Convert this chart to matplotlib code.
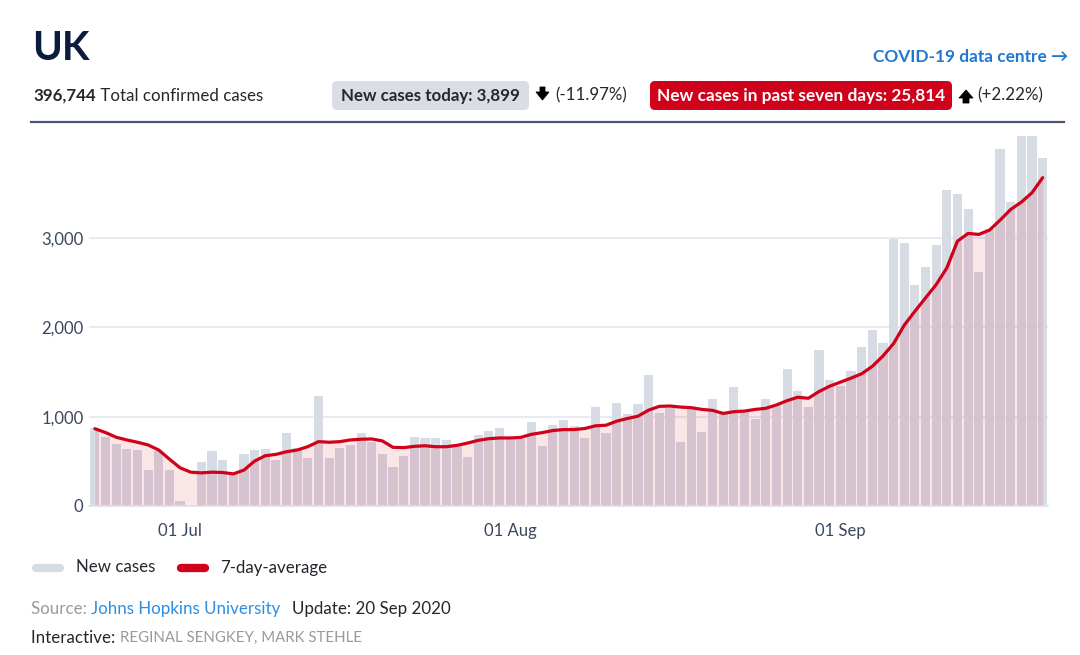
import numpy as np
import pandas as pd
import matplotlib
matplotlib.use("Agg")
import matplotlib.pyplot as plt
from matplotlib.patches import FancyBboxPatch, Polygon
from matplotlib.lines import Line2D
from matplotlib.transforms import IdentityTransform

# ---------------- data ----------------
dates = pd.date_range("2020-06-23", "2020-09-20", freq="D")
new_cases = [
    872, 777, 691, 635, 627, 401, 616, 398, 51, 0,
    495, 616, 511, 364, 579, 627, 638, 518, 819, 646,
    533, 1237, 533, 646, 684, 823, 721, 579, 438, 556,
    774, 762, 762, 742, 690, 547, 796, 844, 879, 759,
    755, 942, 672, 906, 960, 898, 765, 1113, 817, 1152,
    1036, 1148, 1462, 1041, 1100, 714, 1085, 830, 1194, 1027,
    1334, 1050, 978, 1199, 1130, 1540, 1293, 1108, 1751, 1413,
    1342, 1514, 1778, 1976, 1824, 2986, 2948, 2477, 2675, 2928,
    3537, 3499, 3330, 2622, 3104, 4000, 3404, 4322, 4422, 3899,
]
avg7 = [
    866, 823, 770, 740, 714, 684, 627, 525, 428, 379,
    371, 379, 375, 360, 402, 503, 563, 578, 608, 627,
    665, 721, 714, 721, 740, 748, 751, 729, 657, 654,
    668, 675, 664, 664, 679, 705, 735, 754, 762, 762,
    769, 803, 822, 845, 856, 856, 868, 898, 905, 950,
    980, 1006, 1074, 1116, 1120, 1108, 1101, 1082, 1071, 1037,
    1056, 1063, 1082, 1094, 1132, 1180, 1218, 1207, 1282, 1342,
    1387, 1432, 1481, 1564, 1680, 1820, 2025, 2181, 2331, 2480,
    2667, 2967, 3053, 3042, 3090, 3202, 3322, 3404, 3509, 3678,
]
yticks = [0, 1000, 2000, 3000]
ytick_labels = ["0", "1,000", "2,000", "3,000"]
xtick_dates = ["2020-07-01", "2020-08-01", "2020-09-01"]
xtick_labels = ["01 Jul", "01 Aug", "01 Sep"]

# ---------------- style ----------------
W, H = 1080, 655
FONT = ["Lato", "DejaVu Sans"]
plt.rcParams["font.family"] = FONT
NAVY = "#0b1a3d"
DARK = "#26262e"
SLATE = "#3b4660"
GREY_TXT = "#9a9a9a"
BLUE = "#1f77d0"
BAR = "#d6dbe4"
RED = "#d0021b"

fig = plt.figure(figsize=(W / 100, H / 100), dpi=100)
fig.patch.set_facecolor("white")


def fx(x):
    return x / W


def fy(y):
    return 1 - y / H


ax = fig.add_axes([fx(89), fy(506), fx(1048) - fx(89), fy(135.5) - fy(506)])
x = np.arange(len(dates))
ax.bar(x, new_cases, width=0.86, color=BAR, zorder=2, linewidth=0)
ax.fill_between(x, 0, avg7, color=RED, alpha=0.10, linewidth=0, zorder=3)
ax.plot(x, avg7, color=RED, lw=2.3, zorder=4, solid_joinstyle="round",
        solid_capstyle="round")
ax.set_xlim(-0.55, len(dates) - 0.5)
ax.set_ylim(0, 4150)
ax.set_yticks(yticks)
ax.set_yticklabels(ytick_labels)
xt = [int((pd.Timestamp(d) - dates[0]).days) for d in xtick_dates]
ax.set_xticks(xt)
ax.set_xticklabels(xtick_labels)
ax.tick_params(axis="both", length=0, labelsize=12, labelcolor=SLATE)
ax.tick_params(axis="y", pad=4)
ax.tick_params(axis="x", pad=12)
ax.grid(axis="y", color="#e6e8ef", lw=1.2, zorder=0)
ax.set_axisbelow(True)
for s in ["top", "right", "left"]:
    ax.spines[s].set_visible(False)
ax.spines["bottom"].set_color("#dfe2ea")
ax.spines["bottom"].set_linewidth(1.2)
ax.spines["bottom"].set_zorder(5)

# ---------------- header ----------------
renderer = fig.canvas.get_renderer()


def seq_text(x0, y, pieces, ha_va="center"):
    """Place text pieces one after another (pixel coords, y from top)."""
    xc = x0
    for txt, kw in pieces:
        t = fig.text(fx(xc), fy(y), txt, va=ha_va, ha="left", **kw)
        bb = t.get_window_extent(renderer=renderer)
        xc += bb.width
    return xc


fig.text(fx(32), fy(48), "UK", fontsize=29, fontweight="bold", color=NAVY,
         va="center", ha="left")

seq_text(33, 96, [("396,744", dict(fontsize=12.2, fontweight="bold", color=DARK)),
                  (" Total confirmed cases", dict(fontsize=12.2, color=DARK))])

# grey pill
fig.patches.append(FancyBboxPatch((332, H - 110), 197, 29,
                                  boxstyle="round,pad=0,rounding_size=5",
                                  transform=IdentityTransform(), figure=fig,
                                  facecolor="#d9dee6", edgecolor="none"))
fig.text(fx(430), fy(95.5), "New cases today: 3,899", fontsize=12.2,
         fontweight="bold", color=DARK, ha="center", va="center")
# down arrow
fig.patches.append(Polygon([[536, H - 92], [540, H - 92], [540, H - 87], [545, H - 87],
                            [545, H - 92], [549, H - 92], [542.5, H - 100]],
                           closed=True, transform=IdentityTransform(), figure=fig,
                           facecolor="black", edgecolor="black", lw=0.6))
fig.text(fx(555), fy(95.5), "(-11.97%)", fontsize=12.2, color=DARK, ha="left",
         va="center")

# red pill
fig.patches.append(FancyBboxPatch((650, H - 110), 302, 29,
                                  boxstyle="round,pad=0,rounding_size=5",
                                  transform=IdentityTransform(), figure=fig,
                                  facecolor=RED, edgecolor="none"))
fig.text(fx(801), fy(95.5), "New cases in past seven days: 25,814", fontsize=12.4,
         fontweight="bold", color="white", ha="center", va="center")
# up arrow
fig.patches.append(Polygon([[959, H - 98], [963, H - 98], [963, H - 103], [969, H - 103],
                            [969, H - 98], [973, H - 98], [966, H - 90]],
                           closed=True, transform=IdentityTransform(), figure=fig,
                           facecolor="black", edgecolor="black", lw=0.6))
fig.text(fx(977), fy(95.5), "(+2.22%)", fontsize=12.2, color=DARK, ha="left",
         va="center")

fig.text(fx(1068), fy(57), "COVID-19 data centre \u2192", fontsize=12.4,
         fontweight="bold", color=BLUE, ha="right", va="center",
         family=["Lato", "DejaVu Sans"])

# rule
fig.lines.append(Line2D([fx(31), fx(1064)], [fy(121.5), fy(121.5)],
                        transform=fig.transFigure, color="#4b5570", lw=1.6))

# ---------------- legend ----------------
fig.lines.append(Line2D([36, 60], [H - 567.5, H - 567.5], transform=IdentityTransform(),
                        color=BAR, lw=6.0, solid_capstyle="round"))
fig.text(fx(76), fy(567.5), "New cases", fontsize=12.2, color=DARK, va="center")
fig.lines.append(Line2D([181, 205], [H - 567.5, H - 567.5], transform=IdentityTransform(),
                        color=RED, lw=6.0, solid_capstyle="round"))
fig.text(fx(220), fy(567.5), "7-day-average", fontsize=12.2, color=DARK, va="center")

# ---------------- source ----------------
end = seq_text(31, 609, [("Source: ", dict(fontsize=12.2, color=GREY_TXT)),
                         ("Johns Hopkins University", dict(fontsize=12.2, color="#2b8de3"))])
fig.text(fx(end + 11), fy(609), "Update: 20 Sep 2020", fontsize=12.2, color=DARK,
         va="center", ha="left")
seq_text(31, 638, [("Interactive: ", dict(fontsize=12.2, color=DARK)),
                   ("REGINAL SENGKEY, MARK STEHLE", dict(fontsize=10.8, color=GREY_TXT))])

fig.savefig("out.png", dpi=100, facecolor="white")
